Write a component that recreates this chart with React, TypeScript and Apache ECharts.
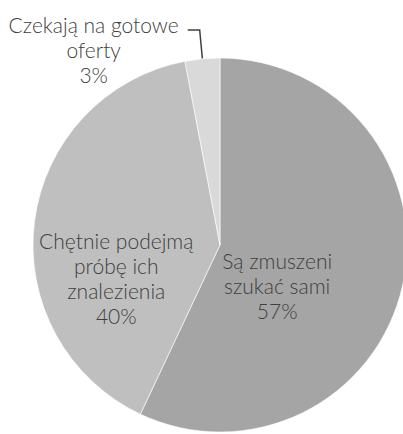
import React, { useEffect, useRef } from "react";
import * as echarts from "echarts";

const categories = ["Są zmuszeni\nszukać sami", "Chętnie podejmą\npróbę ich\nznalezienia", "Czekają na gotowe\noferty"];
const values = [57, 40, 3];
const colors = ["#a5a5a5", "#bfbfbf", "#d9d9d9"];

export default function App() {
  const ref = useRef<HTMLDivElement>(null);
  useEffect(() => {
    document.body.style.margin = "0";
    const chart = echarts.init(ref.current!, null, { renderer: "svg" });
    const textStyle = {
      fontFamily: "Lato",
      fontWeight: 300 as any,
      fontSize: 21,
      lineHeight: 25,
      color: "#404040",
    };
    chart.setOption({
      animation: false,
      backgroundColor: "#ffffff",
      series: [
        {
          type: "pie",
          center: [220, 245],
          radius: 187,
          startAngle: 90,
          clockwise: true,
          avoidLabelOverlap: false,
          itemStyle: { borderColor: "#ffffff", borderWidth: 0.6 },
          data: categories.map((name, i) => ({
            name,
            value: values[i],
            itemStyle: { color: colors[i] },
            label:
              i === 2
                ? {
                    show: true,
                    position: "outside",
                    alignTo: "none",
                    distanceToLabelLine: 6,
                    formatter: (p: any) =>
                      ["{e| }", ...String(p.name).split("\n").map((s) => `{a|${s}}`), `{a|${p.value}%}`].join("\n"),
                    rich: {
                      e: { ...textStyle, lineHeight: 40, fontSize: 10 },
                      a: { ...textStyle, width: 176, align: "center" },
                    },
                    ...textStyle,
                  }
                : {
                    show: true,
                    position: "inside",
                    formatter: (p: any) => `${p.name}\n${p.value}%`,
                    textAlign: "center",
                    ...textStyle,
                  },
            labelLine:
              i === 2
                ? { show: true, length: 29, length2: 12, smooth: false, lineStyle: { color: "#404040", width: 1.5 } }
                : { show: false },
          })),
          labelLayout: (p: any) => {
            if (p.dataIndex === 0) return { dx: -37, dy: 19 };
            if (p.dataIndex === 1) return { dx: -8, dy: 45 };
            return {};
          },
        },
      ],
    });
    return () => chart.dispose();
  }, []);
  return <div ref={ref} style={{ width: 403, height: 434 }} />;
}
